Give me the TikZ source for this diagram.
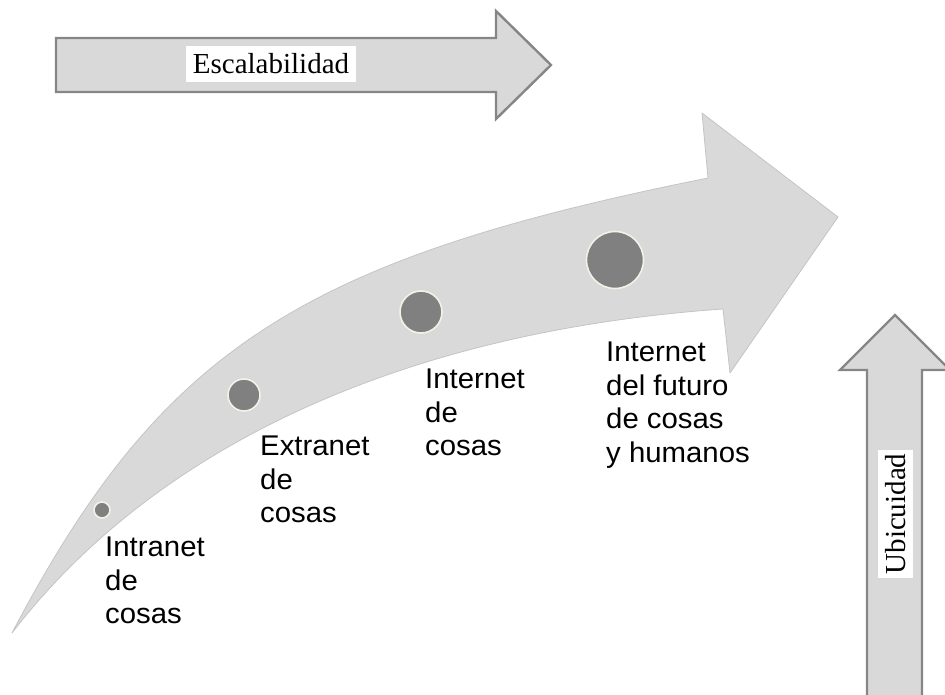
\documentclass[tikz,border=0pt]{standalone}
\usepackage{fontspec}
\newfontfamily\labfont[FakeStretch=1.03]{Liberation Sans}
\newfontfamily\titfont{Liberation Serif}
\definecolor{arrowgrey}{HTML}{D9D9D9}
\definecolor{edgegrey}{HTML}{C4C4C4}
\definecolor{rimgrey}{HTML}{868686}
\definecolor{dotgrey}{HTML}{808080}
\definecolor{dotrim}{HTML}{F2F2E8}
\begin{document}
\begin{tikzpicture}[x=1pt,y=-1pt,
  band/.style={fill=arrowgrey, draw=edgegrey, line width=0.8pt, line join=round},
  blockarrow/.style={fill=arrowgrey, draw=rimgrey, line width=2.4pt, line join=miter},
  dot/.style={circle, fill=dotgrey, draw=dotrim, line width=1.6pt, inner sep=0pt},
  stage/.style={font=\labfont\fontsize{28.5}{33.5}\selectfont, align=left,
                anchor=north west, inner sep=0pt},
  tag/.style={font=\titfont\fontsize{29}{30}\selectfont, fill=white,
              inner xsep=7pt, inner ysep=0pt, minimum height=36pt}]

\useasboundingbox (0,0) rectangle (945,695);
\clip (0,0) rectangle (945,695);

% horizontal block arrow
\draw[blockarrow] (56,38) -- (496,38) -- (496,11) -- (551,65) -- (496,119)
  -- (496,92) -- (56,92) -- cycle;
\node[tag] (escala) at (271,64) {Escalabilidad};

% vertical block arrow
\draw[blockarrow] (867,700) -- (867,370) -- (840,370) -- (895,315) -- (950,370)
  -- (922,370) -- (922,700) -- cycle;
\node[tag, rotate=90, inner xsep=4pt, minimum height=35pt] (ubicuidad)
  at (895.5,514) {Ubicuidad};

% curved growth arrow
\draw[band] (12,633) .. controls (160.6,350.4) and (300,259.6) .. (708,178)
  -- (702,113) -- (838,217) -- (730,373) -- (723,309)
  .. controls (405.8,331.2) and (157,444.5) .. (12,633) -- cycle;

% stage markers
\node[dot, minimum size=16pt] (d1) at (102,510) {};
\node[dot, minimum size=32pt] (d2) at (244,395) {};
\node[dot, minimum size=42pt] (d3) at (421,312) {};
\node[dot, minimum size=57pt] (d4) at (615,260) {};

% stage labels
\node[stage] (intranet) at (105,537) {Intranet\\de\\cosas};
\node[stage] (extranet) at (260,436) {Extranet\\de\\cosas};
\node[stage] (internet) at (425,369) {Internet\\de\\cosas};
\node[stage] (futuro) at (606,342) {Internet\\del futuro\\de cosas\\y humanos};
\end{tikzpicture}
\end{document}
